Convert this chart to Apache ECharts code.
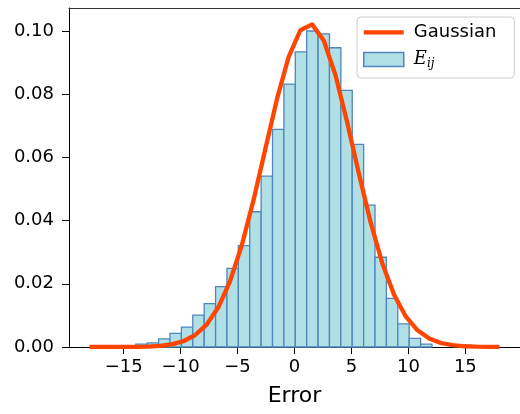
<!DOCTYPE html>
<html><head><meta charset="utf-8">
<script src="https://cdn.jsdelivr.net/npm/echarts@6/dist/echarts.min.js"></script>
<style>html,body{margin:0;padding:0;background:#fff}#c{width:520px;height:414px}</style>
</head><body><div id="c"></div>
<script>
// Histogram bins (left edges, width 1) and densities
const binStarts = [-13.93,-12.93,-11.93,-10.93,-9.93,-8.93,-7.93,-6.93,-5.93,-4.93,-3.93,-2.93,-1.93,-0.93,0.07,1.07,2.07,3.07,4.07,5.07,6.07,7.07,8.07,9.07,10.07,11.07];
const binWidth = 1;
const binHeights = [0.0009,0.0013,0.0026,0.0043,0.0063,0.0101,0.0137,0.0191,0.0249,0.0321,0.0428,0.0541,0.0689,0.0832,0.0934,0.1000,0.0991,0.0947,0.0812,0.0641,0.0449,0.0284,0.0154,0.0073,0.0027,0.0009];
// Gaussian curve points
const gaussX = [-18,-16.971,-15.943,-14.914,-13.886,-12.857,-11.829,-10.8,-9.771,-8.743,-7.714,-6.686,-5.657,-4.629,-3.6,-2.571,-1.543,-0.514,0.514,1.543,2.571,3.6,4.629,5.657,6.686,7.714,8.743,9.771,10.8,11.829,12.857,13.886,14.914,15.943,16.971,18];
const gaussY = [0.0000005,0.0000018,0.0000058,0.0000181,0.0000522,0.000141,0.000354,0.000831,0.00182,0.00371,0.00708,0.01257,0.02084,0.03221,0.04647,0.06251,0.07843,0.09181,0.10024,0.10210,0.09701,0.08597,0.07107,0.05481,0.03942,0.02645,0.01655,0.00967,0.00527,0.00267,0.00127,0.00056,0.00023,0.000089,0.000032,0.000011];
const xTicks = [-15,-10,-5,0,5,10,15];
const yTicks = [0,0.02,0.04,0.06,0.08,0.10];
const xLabel = 'Error';
const names = ['Gaussian','E_ij'];

const FONT = 'DejaVu Sans';
const chart = echarts.init(document.getElementById('c'), null, {renderer:'canvas'});
const barFill = '#B0E0E6', barEdge = '#4f86bb', lineColor = '#FF4500';
const xMin = -19.8, xMax = 19.8;
chart.setOption({
  animation:false,
  backgroundColor:'#fff',
  textStyle:{fontFamily:FONT},
  grid:{left:69, top:8, width:453.8, height:339, show:false, containLabel:false},
  xAxis:[{
    type:'value', min:xMin, max:xMax, position:'bottom',
    axisLine:{show:true, onZero:false, lineStyle:{color:'#000', width:1}},
    axisTick:{show:true, customValues:xTicks, length:7, lineStyle:{color:'#000', width:1}},
    axisLabel:{customValues:xTicks, fontSize:18, color:'#000', fontFamily:FONT, margin:11,
      formatter:v => v<0 ? '\u2212'+Math.abs(v) : String(v)},
    splitLine:{show:false},
    name:xLabel, nameLocation:'middle', nameGap:38,
    nameTextStyle:{fontSize:22, color:'#000', fontFamily:FONT}
  },{
    type:'value', min:xMin, max:xMax, position:'top',
    axisLine:{show:true, onZero:false, lineStyle:{color:'#333', width:1}},
    axisTick:{show:false}, axisLabel:{show:false}, splitLine:{show:false}
  }],
  yAxis:{
    type:'value', min:0, max:0.10728,
    axisLine:{show:true, onZero:false, lineStyle:{color:'#000', width:1}},
    axisTick:{show:true, customValues:yTicks, length:7, lineStyle:{color:'#000', width:1}},
    axisLabel:{customValues:yTicks, fontSize:18, color:'#000', fontFamily:FONT, margin:15,
      formatter:v => v.toFixed(2)},
    splitLine:{show:false}
  },
  legend:{
    orient:'vertical', left:357, top:17,
    padding:[5,18,8,6], itemGap:7, itemWidth:40, itemHeight:14,
    backgroundColor:'rgba(255,255,255,0.85)', borderColor:'#cccccc', borderWidth:1, borderRadius:4,
    textStyle:{fontSize:18, color:'#000', fontFamily:FONT, lineHeight:20, padding:[0,0,0,5],
      rich:{
        e:{fontFamily:'DejaVu Serif', fontStyle:'italic', fontSize:18, lineHeight:20},
        s:{fontFamily:'DejaVu Serif', fontStyle:'italic', fontSize:12, lineHeight:20, padding:[9,0,0,0]}
      }},
    formatter: n => n==='E_ij' ? '{e|E}{s|ij}' : n,
    data:[
      {name:names[0], icon:'path://M0,0h0.01v0.01h-0.01z M0,5.3H40V9.5H0Z M39.99,13.99h0.01v0.01h-0.01z', itemStyle:{color:lineColor}},
      {name:names[1], icon:'rect', itemStyle:{color:barFill, borderColor:barEdge, borderWidth:1.5}}
    ]
  },
  series:[
    {
      name:names[1], type:'custom', z:2,
      itemStyle:{color:barFill, borderColor:barEdge},
      data: binStarts.map((s,i)=>[s, binHeights[i]]),
      renderItem:(params, api) => {
        const x0 = api.value(0), h = api.value(1);
        const p0 = api.coord([x0, h]);
        const p1 = api.coord([x0 + binWidth, 0]);
        return {type:'rect', shape:{x:p0[0], y:p0[1], width:p1[0]-p0[0], height:p1[1]-p0[1]},
          style:{fill:barFill, stroke:barEdge, lineWidth:1.3}};
      }
    },
    {
      name:names[0], type:'line', z:3, showSymbol:false, symbol:'none',
      data: gaussX.map((x,i)=>[x, gaussY[i]]),
      lineStyle:{color:lineColor, width:4.3, join:'round'}, itemStyle:{color:lineColor}
    }
  ]
});
</script></body></html>
